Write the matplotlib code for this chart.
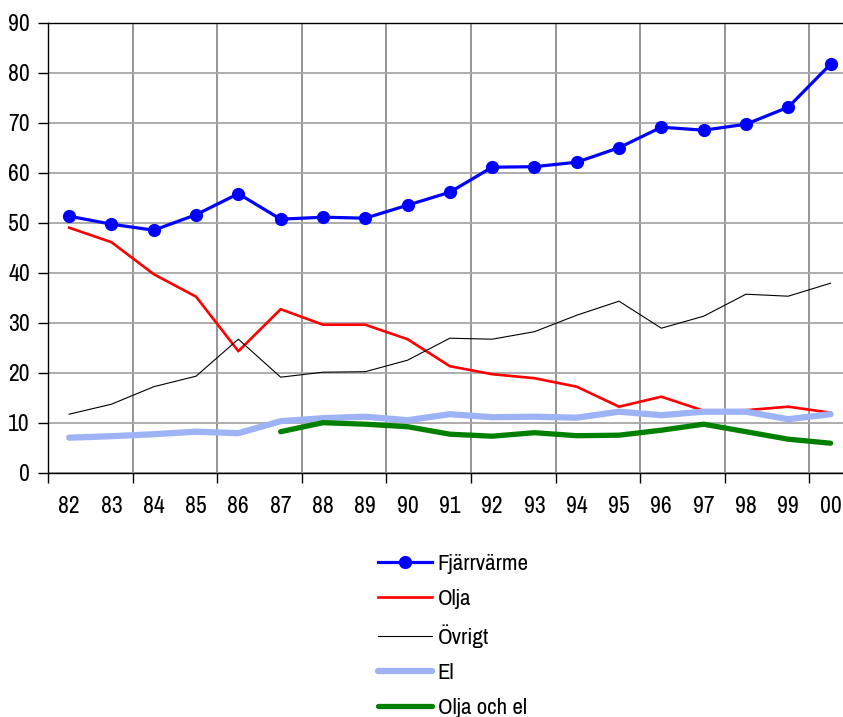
import matplotlib
matplotlib.use('Agg')
import matplotlib.pyplot as plt
from matplotlib.ticker import FixedLocator

# narrow sans, like the Arial Narrow of the original
plt.rcParams['font.family'] = ['Liberation Sans Narrow', 'Archivo Narrow', 'DejaVu Sans']

# year labels on the category axis
years = ['82', '83', '84', '85', '86', '87', '88', '89', '90', '91',
         '92', '93', '94', '95', '96', '97', '98', '99', '00']

# series values
fjarrvarme = [51.3, 49.7, 48.5, 51.6, 55.8, 50.7, 51.1, 50.9, 53.5, 56.1,
              61.1, 61.2, 62.1, 65.0, 69.1, 68.5, 69.7, 73.1, 81.7]
olja = [49.0, 46.1, 39.7, 35.2, 24.3, 32.7, 29.6, 29.6, 26.7, 21.3,
        19.7, 18.9, 17.2, 13.2, 15.2, 12.4, 12.5, 13.2, 12.0]
ovrigt = [11.7, 13.7, 17.2, 19.3, 26.7, 19.1, 20.1, 20.2, 22.5, 26.9,
          26.7, 28.2, 31.5, 34.3, 28.9, 31.3, 35.7, 35.3, 37.9]
el = [7.0, 7.3, 7.7, 8.2, 7.9, 10.3, 10.9, 11.2, 10.5, 11.7,
      11.1, 11.2, 11.0, 12.2, 11.5, 12.2, 12.2, 10.7, 11.7]
# starts in 87
olja_och_el = [8.2, 10.0, 9.7, 9.2, 7.7, 7.3, 8.0, 7.4, 7.5, 8.5, 9.7, 8.2, 6.7, 5.9]

W, H = 843, 717
fig = plt.figure(figsize=(W/100., H/100.), dpi=100)
# plot area runs past the right edge of the picture, like the original
ax = fig.add_axes([48./W, (H-472.7)/H, 42.3*19/W, 450./H])

x = list(range(len(years)))
x2 = x[len(years)-len(olja_och_el):]

ax.plot(x, fjarrvarme, color='#0000ff', lw=2.3, marker='o', ms=8.5, label='Fjärrvärme', zorder=6)
ax.plot(x, olja, color='#ff0000', lw=1.9, label='Olja', zorder=3)
ax.plot(x, ovrigt, color='black', lw=0.8, label='Övrigt', zorder=3)
ax.plot(x, el, color='#9db3f5', lw=4.5, label='El', solid_capstyle='round', zorder=4)
ax.plot(x2, olja_och_el, color='#008000', lw=3.8, label='Olja och el', solid_capstyle='round', zorder=5)

ax.set_xlim(-0.5, len(years)-0.5)
ax.set_ylim(0, 90)
ax.set_yticks(range(0, 91, 10))
ax.set_xticks(x)
ax.set_xticklabels(years)
ax.xaxis.set_minor_locator(FixedLocator([i - 0.5 for i in range(0, len(years), 2)]))

ax.tick_params(axis='x', which='major', length=0, pad=17, labelsize=17)
ax.tick_params(axis='x', which='minor', length=7, width=1, direction='out')
ax.tick_params(axis='y', length=7, width=1, direction='out', pad=6, labelsize=17)

ax.grid(True, axis='y', color='#a6a6a6', lw=1.3, zorder=0)
ax.grid(True, axis='x', which='minor', color='#8c8c8c', lw=1.3, zorder=0)
ax.set_axisbelow(True)
for s in ['left', 'bottom', 'top']:
    ax.spines[s].set_color('black')
    ax.spines[s].set_linewidth(1.0)

fig.legend(loc='upper left', bbox_to_anchor=(378./W, 1 - 554./H), frameon=False,
           fontsize=16.5, handlelength=2.35, handletextpad=0.25, labelspacing=0.66,
           borderpad=0, borderaxespad=0)

plt.savefig('out.png', dpi=100)
